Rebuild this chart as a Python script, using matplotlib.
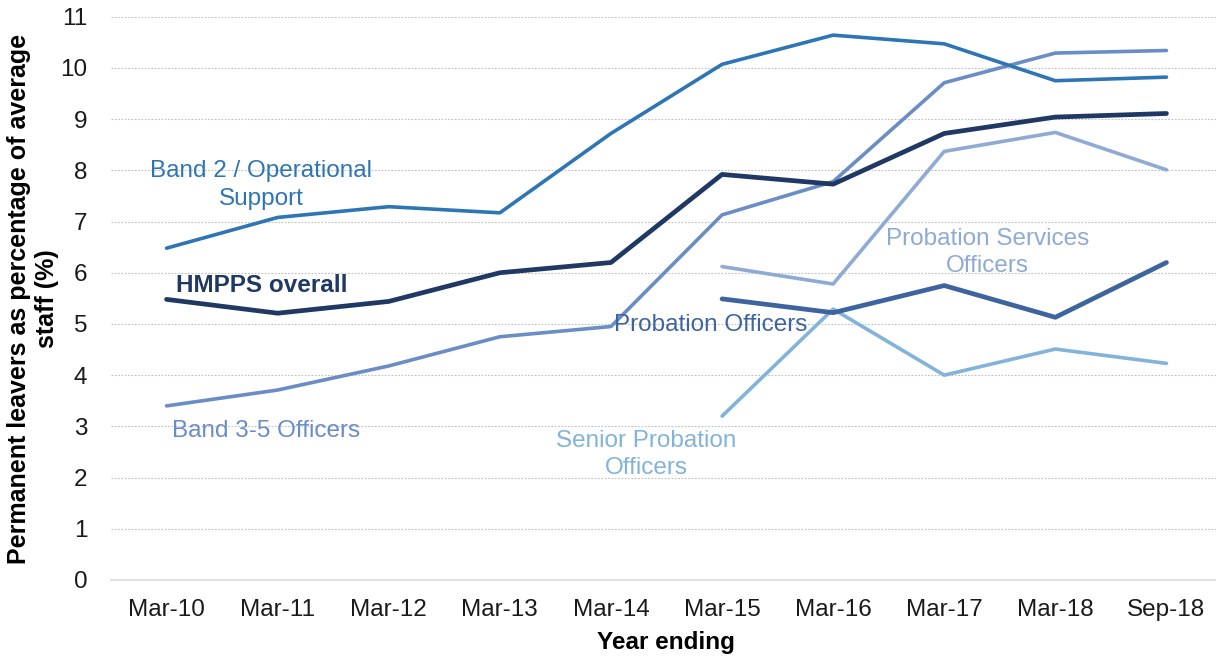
import matplotlib
matplotlib.use("Agg")
import matplotlib.pyplot as plt
import numpy as np

plt.rcParams['font.family'] = ['Liberation Sans', 'DejaVu Sans']

categories = ["Mar-10", "Mar-11", "Mar-12", "Mar-13", "Mar-14", "Mar-15",
              "Mar-16", "Mar-17", "Mar-18", "Sep-18"]

band2 = [6.48, 7.08, 7.29, 7.17, 8.72, 10.07, 10.64, 10.47, 9.75, 9.82]
hmpps = [5.48, 5.21, 5.44, 6.00, 6.20, 7.92, 7.73, 8.72, 9.04, 9.11]
band35 = [3.40, 3.71, 4.18, 4.75, 4.95, 7.13, 7.78, 9.71, 10.29, 10.34]
pso = [None, None, None, None, None, 6.12, 5.78, 8.37, 8.74, 8.01]
po = [None, None, None, None, None, 5.49, 5.22, 5.75, 5.13, 6.20]
spo = [None, None, None, None, None, 3.20, 5.29, 4.00, 4.51, 4.23]

yticks = list(range(0, 12))

def arr(v):
    return np.array([np.nan if x is None else x for x in v], dtype=float)

W, H = 1216, 656
fig = plt.figure(figsize=(W / 100, H / 100), dpi=100)
ax = fig.add_axes([111 / W, 1 - 580 / H, 1111 / W, (580 - 16.7) / H])

x = np.arange(len(categories))
c_band2 = "#2E75B6"
c_hmpps = "#203864"
c_band35 = "#6A8DC6"
c_pso = "#8FAAD5"
c_po = "#3E64A0"
c_spo = "#82B3D8"

ax.plot(x, arr(band35), color=c_band35, lw=2.6, solid_capstyle='round', zorder=3)
ax.plot(x, arr(pso), color=c_pso, lw=2.6, solid_capstyle='round', zorder=3)
ax.plot(x, arr(spo), color=c_spo, lw=2.6, solid_capstyle='round', zorder=3)
ax.plot(x, arr(po), color=c_po, lw=3.4, solid_capstyle='round', zorder=4)
ax.plot(x, arr(band2), color=c_band2, lw=2.6, solid_capstyle='round', zorder=4)
ax.plot(x, arr(hmpps), color=c_hmpps, lw=3.4, solid_capstyle='round', zorder=5)

ax.set_xlim(-0.5, 9.5)
ax.set_ylim(0, 11)
ax.set_yticks(yticks)
ax.set_xticks(x)
ax.set_xticklabels(categories)
ax.tick_params(axis='both', length=0, labelsize=17.5, colors='#1A1A1A')
ax.tick_params(axis='x', pad=14)
ax.tick_params(axis='y', pad=17)

ax.grid(axis='y', color='#BFBFBF', linestyle=(0, (1.5, 1.5)), linewidth=0.8)
ax.set_axisbelow(True)
for s in ['top', 'right', 'left']:
    ax.spines[s].set_visible(False)
ax.spines['bottom'].set_color('#D9D9D9')
ax.spines['bottom'].set_linewidth(1.2)

fig.text(666 / W, 1 - 643 / H, "Year ending", fontsize=17.5, fontweight='bold',
         ha='center', va='center')
fig.text(33 / W, 1 - 298.5 / H, "Permanent leavers as percentage of average\nstaff (%)",
         fontsize=18, fontweight='bold', rotation=90, ha='center', va='center',
         multialignment='center', linespacing=1.2)

fs = 17.5
ls = 1.32
ax.text(0.85, 7.71, "Band 2 / Operational\nSupport", color=c_band2, fontsize=fs,
        ha='center', va='center', linespacing=ls)
ax.text(0.86, 5.76, "HMPPS overall", color=c_hmpps, fontsize=fs, fontweight='bold',
        ha='center', va='center')
ax.text(0.90, 2.90, "Band 3-5 Officers", color=c_band35, fontsize=fs,
        ha='center', va='center')
ax.text(4.32, 2.45, "Senior Probation\nOfficers", color=c_spo, fontsize=fs,
        ha='center', va='center', linespacing=ls)
ax.text(4.90, 4.98, "Probation Officers", color=c_po, fontsize=fs,
        ha='center', va='center')
ax.text(7.39, 6.39, "Probation Services\nOfficers", color=c_pso, fontsize=fs,
        ha='center', va='center', linespacing=ls)

fig.savefig("out.png", dpi=100)
